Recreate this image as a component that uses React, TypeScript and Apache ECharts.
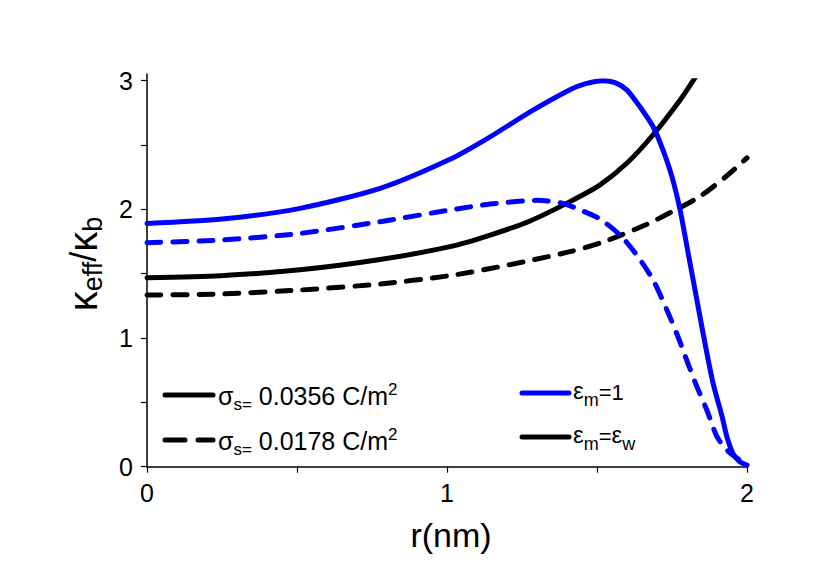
import React, { useEffect, useRef } from 'react';
import * as echarts from 'echarts';

// r (nm) and kappa_eff/kappa_b values
const blueSolidR = [0, 0.25, 0.51, 0.777, 1.01, 1.144, 1.277, 1.41, 1.46, 1.52, 1.56, 1.6, 1.643, 1.687, 1.72, 1.75, 1.777, 1.803, 1.833, 1.86, 1.887, 1.917, 1.933, 1.953, 1.975, 2.0];
const blueSolidK = [1.891, 1.925, 2.008, 2.163, 2.389, 2.564, 2.758, 2.93, 2.975, 3.0, 2.985, 2.927, 2.797, 2.642, 2.461, 2.253, 1.995, 1.671, 1.295, 0.959, 0.648, 0.389, 0.233, 0.104, 0.04, 0.013];

const blueDashR = [0, 0.244, 0.51, 0.777, 1.01, 1.144, 1.3, 1.38, 1.45, 1.51, 1.577, 1.634, 1.687, 1.733, 1.77, 1.803, 1.833, 1.866, 1.9, 1.933, 1.966, 2.0];
const blueDashK = [1.741, 1.761, 1.813, 1.904, 1.995, 2.041, 2.07, 2.05, 1.99, 1.925, 1.8, 1.64, 1.451, 1.218, 1.01, 0.803, 0.622, 0.441, 0.233, 0.13, 0.068, 0.013];

const blackSolidR = [0, 0.244, 0.51, 0.777, 1.01, 1.144, 1.277, 1.41, 1.51, 1.6, 1.687, 1.777, 1.837];
const blackSolidK = [1.469, 1.485, 1.53, 1.61, 1.71, 1.8, 1.91, 2.06, 2.19, 2.36, 2.58, 2.85, 3.06];

const blackDashR = [0, 0.244, 0.51, 0.777, 1.01, 1.144, 1.277, 1.41, 1.52, 1.668, 1.757, 1.843, 1.932, 2.0];
const blackDashK = [1.334, 1.342, 1.373, 1.42, 1.485, 1.54, 1.603, 1.671, 1.746, 1.886, 1.99, 2.1, 2.259, 2.4];

const xTickValues = [0, 1, 2];
const yTickValues = [0, 1, 2, 3];

const FONT = '"Liberation Sans", Arial, Helvetica, sans-serif';
const BLUE = '#0000ff';
const BLACK = '#000000';

const zip = (r: number[], k: number[]) => r.map((v, i) => [v, k[i]]);

export default function App() {
  const ref = useRef<HTMLDivElement>(null);

  useEffect(() => {
    document.body.style.margin = '0';
    const chart = echarts.init(ref.current!, null, { renderer: 'svg' });

    const axisCommon = {
      type: 'value' as const,
      interval: 0.5,
      axisLine: { show: true, onZero: false, lineStyle: { color: BLACK, width: 1.5 } },
      axisTick: { show: true, inside: false, length: 6, lineStyle: { color: BLACK, width: 1.2 } },
      splitLine: { show: false },
    };

    const lineSeries = (name: string, r: number[], k: number[], color: string, dashed: boolean) => ({
      name,
      type: 'line',
      data: zip(r, k),
      showSymbol: false,
      symbol: 'none',
      smooth: 0.25,
      clip: true,
      lineStyle: { color, width: 5, type: dashed ? [14, 12] : 'solid', cap: 'round', join: 'round' },
    });

    const legendRich = {
      g: { fontSize: 25, fontFamily: FONT, color: BLACK },
      sub: { fontSize: 17, fontFamily: FONT, color: BLACK, padding: [16, 0, 0, 0] },
      n: { fontSize: 25, fontFamily: FONT, color: BLACK },
      sup: { fontSize: 17, fontFamily: FONT, color: BLACK, padding: [0, 0, 14, 0] },
      e: { fontSize: 24, fontFamily: FONT, color: BLACK },
      esub: { fontSize: 18, fontFamily: FONT, color: BLACK, padding: [20, 0, 0, 0] },
      eq: { fontSize: 22, fontFamily: FONT, color: BLACK, padding: [4, 0, 0, 0] },
    };

    const legendLine = (x1: number, x2: number, y: number, color: string, dashed: boolean) => ({
      type: 'line',
      shape: { x1, y1: y, x2, y2: y },
      style: { stroke: color, lineWidth: 5, lineCap: 'round', lineDash: dashed ? [20, 13] : null },
      silent: true,
    });

    const legendText = (x: number, y: number, text: string) => ({
      type: 'text',
      x,
      y,
      style: { text, rich: legendRich, align: 'left', verticalAlign: 'middle', fontFamily: FONT, fontSize: 25, fill: BLACK },
      silent: true,
    });

    chart.setOption({
      animation: false,
      backgroundColor: '#ffffff',
      grid: { left: 147, right: 83, top: 80.7, bottom: 120.3, containLabel: false },
      xAxis: {
        ...axisCommon,
        min: 0,
        max: 2,
        axisLabel: {
          show: true,
          margin: 14,
          fontSize: 25,
          fontFamily: FONT,
          color: BLACK,
          formatter: (v: number) => (xTickValues.includes(v) ? String(v) : ''),
        },
      },
      yAxis: {
        ...axisCommon,
        min: 0,
        max: 3,
        axisLabel: {
          show: true,
          margin: 14,
          fontSize: 25,
          fontFamily: FONT,
          color: BLACK,
          formatter: (v: number) => (yTickValues.includes(v) ? String(v) : ''),
        },
      },
      series: [
        lineSeries('black dashed', blackDashR, blackDashK, BLACK, true),
        lineSeries('black solid', blackSolidR, blackSolidK, BLACK, false),
        lineSeries('blue dashed', blueDashR, blueDashK, BLUE, true),
        lineSeries('blue solid', blueSolidR, blueSolidK, BLUE, false),
      ],
      graphic: [
        {
          type: 'line',
          shape: { x1: 147, y1: 73.5, x2: 147, y2: 81 },
          style: { stroke: BLACK, lineWidth: 1.5 },
          silent: true,
        },
        legendLine(165, 213, 395, BLACK, false),
        legendText(218, 396, '{g|σ}{sub|s=}{n| 0.0356 C/m}{sup|2}'),
        legendLine(165, 213, 440, BLACK, true),
        legendText(218, 441, '{g|σ}{sub|s=}{n| 0.0178 C/m}{sup|2}'),
        legendLine(522, 569, 393, BLUE, false),
        legendText(573, 390, '{e|ε}{esub|m}{eq|=1}'),
        legendLine(522, 569, 437, BLACK, false),
        legendText(573, 434, '{e|ε}{esub|m}{eq|=}{e|ε}{esub|w}'),
        {
          type: 'text',
          x: 83,
          y: 264,
          rotation: Math.PI / 2,
          style: {
            text: '{k|κ}{s|eff}{sl|/}{k|κ}{s|b}',
            align: 'center',
            verticalAlign: 'middle',
            fill: BLACK,
            rich: {
              k: { fontSize: 40, fontFamily: FONT, color: BLACK },
              s: { fontSize: 27, fontFamily: FONT, color: BLACK, padding: [20, 0, 0, 0] },
              sl: { fontSize: 36, fontFamily: FONT, color: BLACK },
            },
          },
          silent: true,
        },
        {
          type: 'text',
          x: 451,
          y: 535,
          style: { text: 'r(nm)', align: 'center', verticalAlign: 'middle', fontSize: 34, fontFamily: FONT, fill: BLACK },
          silent: true,
        },
      ],
    });

    return () => chart.dispose();
  }, []);

  return <div ref={ref} style={{ width: 830, height: 587 }} />;
}
